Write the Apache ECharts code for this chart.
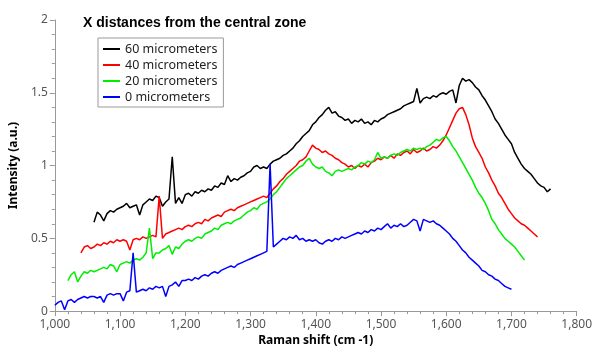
<!DOCTYPE html>
<html>
<head>
<meta charset="utf-8">
<script src="https://cdn.jsdelivr.net/npm/echarts@6/dist/echarts.min.js"></script>
<style>
  html, body { margin: 0; padding: 0; background: #fff; }
  #ramanChart { width: 595px; height: 352px; }
</style>
</head>
<body>
<div id="ramanChart"></div>
<script>
  const STEP = 5;
  const names = ['60 micrometers', '40 micrometers', '20 micrometers', '0 micrometers'];
  const colors = ['#000000', '#ff0000', '#00ee00', '#0000ff'];

  const start60 = 1060;
  const um60 = [
    0.61,0.68,0.66,0.62,0.67,0.69,0.68,0.70,0.71,0.72,
    0.74,0.71,0.72,0.73,0.66,0.73,0.75,0.77,0.76,0.79,
    0.78,0.72,0.75,0.77,1.06,0.74,0.78,0.74,0.80,0.81,
    0.79,0.82,0.81,0.83,0.82,0.84,0.83,0.86,0.85,0.88,
    0.87,0.93,0.89,0.91,0.90,0.92,0.93,0.95,0.96,0.99,
    1.00,0.98,0.99,0.98,1.01,1.03,1.04,1.05,1.07,1.08,
    1.10,1.12,1.15,1.17,1.20,1.22,1.24,1.28,1.30,1.33,
    1.35,1.38,1.40,1.36,1.37,1.34,1.33,1.31,1.32,1.29,
    1.31,1.30,1.32,1.29,1.30,1.28,1.31,1.30,1.32,1.33,
    1.35,1.36,1.37,1.38,1.39,1.41,1.42,1.43,1.44,1.53,
    1.43,1.46,1.47,1.46,1.48,1.47,1.49,1.50,1.49,1.51,
    1.52,1.43,1.55,1.60,1.58,1.59,1.57,1.54,1.52,1.48,
    1.45,1.41,1.37,1.32,1.29,1.25,1.21,1.18,1.15,1.09,
    1.05,1.01,0.98,0.96,0.94,0.91,0.88,0.86,0.85,0.82,
    0.84
  ];

  const start40 = 1040;
  const um40 = [
    0.40,0.44,0.45,0.43,0.44,0.46,0.45,0.47,0.46,0.48,
    0.47,0.49,0.48,0.49,0.48,0.42,0.49,0.50,0.49,0.51,
    0.50,0.51,0.52,0.51,0.79,0.50,0.53,0.54,0.55,0.56,
    0.57,0.56,0.58,0.59,0.58,0.60,0.61,0.60,0.63,0.62,
    0.64,0.65,0.66,0.65,0.68,0.69,0.70,0.69,0.71,0.72,
    0.73,0.74,0.75,0.76,0.77,0.78,0.79,0.78,0.81,0.84,
    0.86,0.89,0.91,0.94,0.96,0.98,1.00,1.03,1.04,1.06,
    1.10,1.14,1.12,1.11,1.09,1.10,1.08,1.07,1.05,1.04,
    1.02,1.01,0.99,1.00,0.98,1.00,0.99,1.01,0.99,1.02,
    1.03,1.05,1.04,1.06,1.05,1.07,1.05,1.08,1.07,1.09,
    1.10,1.08,1.11,1.09,1.10,1.12,1.10,1.11,1.13,1.12,
    1.14,1.17,1.21,1.26,1.31,1.36,1.39,1.40,1.35,1.28,
    1.19,1.13,1.09,1.05,0.99,0.95,0.90,0.86,0.81,0.78,
    0.74,0.70,0.67,0.64,0.62,0.60,0.59,0.57,0.55,0.53,
    0.51
  ];

  const start20 = 1020;
  const um20 = [
    0.21,0.25,0.27,0.20,0.24,0.27,0.26,0.28,0.27,0.28,
    0.29,0.30,0.29,0.32,0.31,0.27,0.32,0.33,0.34,0.33,
    0.35,0.36,0.35,0.37,0.40,0.57,0.36,0.40,0.40,0.42,
    0.43,0.45,0.39,0.44,0.43,0.46,0.48,0.49,0.48,0.50,
    0.51,0.50,0.53,0.54,0.55,0.57,0.56,0.59,0.60,0.61,
    0.60,0.62,0.63,0.64,0.66,0.68,0.69,0.71,0.70,0.73,
    0.74,0.75,0.77,0.80,0.82,0.85,0.88,0.91,0.93,0.95,
    0.97,0.99,1.00,1.03,1.05,1.01,0.99,0.98,0.99,0.96,
    0.95,0.93,0.96,0.97,0.96,0.97,0.98,0.97,0.99,1.00,
    1.02,1.01,1.03,1.02,1.04,1.09,1.05,1.06,1.05,1.07,
    1.08,1.07,1.09,1.10,1.11,1.10,1.12,1.11,1.12,1.11,
    1.13,1.14,1.16,1.18,1.17,1.19,1.20,1.17,1.13,1.10,
    1.06,1.02,0.98,0.94,0.90,0.85,0.81,0.78,0.74,0.69,
    0.63,0.60,0.56,0.53,0.50,0.48,0.46,0.44,0.41,0.38,
    0.35
  ];

  const start0 = 1000;
  const um0 = [
    0.04,0.06,0.07,0.01,0.07,0.08,0.06,0.08,0.09,0.10,
    0.09,0.10,0.10,0.09,0.10,0.06,0.11,0.12,0.11,0.12,
    0.12,0.07,0.13,0.14,0.40,0.13,0.14,0.15,0.14,0.16,
    0.15,0.17,0.16,0.17,0.10,0.17,0.18,0.20,0.17,0.21,
    0.21,0.22,0.21,0.23,0.22,0.24,0.25,0.24,0.26,0.27,
    0.26,0.28,0.29,0.30,0.31,0.30,0.32,0.33,0.34,0.35,
    0.36,0.37,0.38,0.39,0.40,0.41,1.01,0.44,0.46,0.48,
    0.50,0.49,0.51,0.50,0.52,0.49,0.50,0.48,0.49,0.48,
    0.49,0.47,0.46,0.48,0.49,0.48,0.50,0.49,0.51,0.50,
    0.51,0.52,0.53,0.54,0.53,0.55,0.54,0.56,0.55,0.57,
    0.56,0.58,0.60,0.57,0.59,0.58,0.60,0.58,0.59,0.61,
    0.63,0.62,0.55,0.63,0.62,0.61,0.62,0.60,0.59,0.57,
    0.55,0.53,0.50,0.48,0.45,0.42,0.40,0.37,0.35,0.33,
    0.31,0.28,0.27,0.25,0.24,0.22,0.21,0.19,0.17,0.16,
    0.15
  ];

  function pairs(start, vals) {
    return vals.map((v, i) => [start + i * STEP, v]);
  }

  const spectra = [pairs(start60, um60), pairs(start40, um40), pairs(start20, um20), pairs(start0, um0)];

  const myChart = echarts.init(document.getElementById('ramanChart'));
  const axisGray = '#999';
  const options = {
    animation: false,
    title: {
      text: 'X distances from the central zone',
      left: 78,
      top: 11,
      textStyle: { fontFamily: 'Liberation Sans', fontWeight: 'bold', fontSize: 14, color: '#000' }
    },
    legend: {
      orient: 'vertical',
      left: 98,
      top: 38,
      padding: [4, 6, 3, 5],
      itemGap: 2,
      itemWidth: 17,
      itemHeight: 2,
      icon: 'rect',
      borderColor: '#999',
      borderWidth: 1,
      textStyle: { fontFamily: 'Noto Sans', fontSize: 12.5, color: '#222', lineHeight: 14 },
      data: names
    },
    grid: { left: 52, right: 16, top: 20, bottom: 40 },
    xAxis: {
      type: 'value',
      min: 1000,
      max: 1800,
      interval: 100,
      name: 'Raman shift (cm -1)',
      nameLocation: 'middle',
      nameGap: 23,
      nameTextStyle: { fontFamily: 'Noto Sans', fontWeight: 'bold', fontSize: 12, color: '#000' },
      axisLine: { lineStyle: { color: axisGray } },
      axisTick: { length: 5, lineStyle: { color: axisGray } },
      minorTick: { show: true, splitNumber: 5, length: 3, lineStyle: { color: axisGray } },
      splitLine: { show: false },
      axisLabel: { fontFamily: 'Noto Sans', fontSize: 12, color: '#555', margin: 7 }
    },
    yAxis: {
      type: 'value',
      min: 0,
      max: 2,
      interval: 0.5,
      name: 'Intensity (a.u.)',
      nameLocation: 'middle',
      nameGap: 30,
      nameTextStyle: { fontFamily: 'Noto Sans', fontWeight: 'bold', fontSize: 12, color: '#000' },
      axisLine: { show: true, lineStyle: { color: axisGray } },
      axisTick: { show: true, length: 5, lineStyle: { color: axisGray } },
      minorTick: { show: true, splitNumber: 5, length: 3, lineStyle: { color: axisGray } },
      splitLine: { show: false },
      axisLabel: { fontFamily: 'Noto Sans', fontSize: 12, color: '#555', margin: 7 }
    },
    series: names.map((n, k) => ({
      name: n,
      type: 'line',
      showSymbol: false,
      color: colors[k],
      lineStyle: { width: 1.5, color: colors[k] },
      data: spectra[k]
    }))
  };
  myChart.setOption(options, true);
</script>
</body>
</html>
